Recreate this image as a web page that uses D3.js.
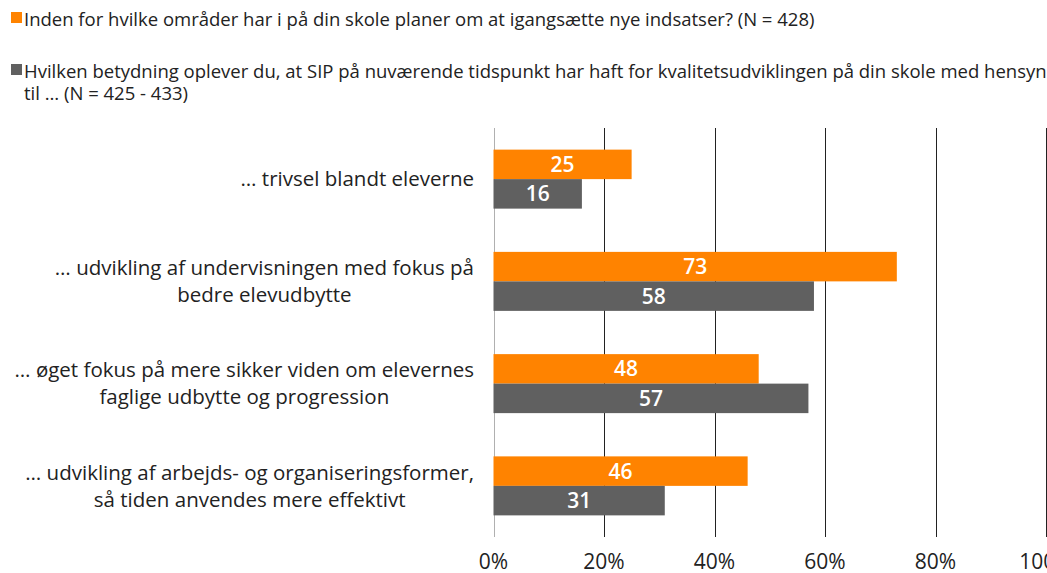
<!DOCTYPE html>
<html><head><meta charset="utf-8">
<script src="https://cdn.jsdelivr.net/npm/d3@7"></script>
<style>
html,body{margin:0;padding:0;background:#fff;overflow:hidden}
svg{display:block;font-family:"Open Sans",sans-serif}
</style></head>
<body>
<svg id="c" width="1047" height="573"></svg>
<script>
const categories = [
  ["… trivsel blandt eleverne"],
  ["… udvikling af undervisningen med fokus på", "bedre elevudbytte"],
  ["… øget fokus på mere sikker viden om elevernes", "faglige udbytte og progression"],
  ["… udvikling af arbejds- og organiseringsformer,", "så tiden anvendes mere effektivt"]
];
const seriesNames = [
  "Inden for hvilke områder har i på din skole planer om at igangsætte nye indsatser? (N = 428)",
  "Hvilken betydning oplever du, at SIP på nuværende tidspunkt har haft for kvalitetsudviklingen på din skole med hensyn|til … (N = 425 - 433)"
];
const planValues = [25, 73, 48, 46];
const sipValues = [16, 58, 57, 31];
const tickValues = [0, 20, 40, 60, 80, 100];
const colors = ["#FF8300", "#606060"];

const svg = d3.select("#c");
const x = d3.scaleLinear().domain([0, 100]).range([493.5, 1046]);
const catKeys = categories.map((c, i) => i);
const y0 = d3.scaleBand().domain(catKeys).range([128, 537]).paddingInner(0).paddingOuter(0);
const y1 = d3.scaleBand().domain([0, 1]).range([0, y0.bandwidth()]).paddingInner(0).paddingOuter(0.733);

// legend
const legY = [{sq: 12, lines: [26]}, {sq: 64, lines: [78, 100]}];
seriesNames.forEach((name, i) => {
  const g = svg.append("g");
  g.append("rect").attr("x", 11).attr("y", legY[i].sq).attr("width", 11).attr("height", 11).attr("fill", colors[i]);
  name.split("|").forEach((ln, j) => {
    g.append("text").attr("x", 24).attr("y", legY[i].lines[j]).attr("font-size", 18.5).attr("fill", "#222").text(ln);
  });
});

// gridlines
svg.append("g").selectAll("line").data(tickValues).join("line")
  .attr("x1", d => Math.round(x(d)) + 0.5).attr("x2", d => Math.round(x(d)) + 0.5)
  .attr("y1", 128).attr("y2", 537)
  .attr("stroke", d => d === 0 ? "#b0b0b0" : "#222").attr("stroke-width", 1);

// tick labels
svg.append("g").selectAll("text").data(tickValues).join("text")
  .attr("x", d => x(d)).attr("y", 569).attr("text-anchor", "middle")
  .attr("font-size", 21).attr("fill", "#222").text(d => d + "%");

// bars
const data = catKeys.map(i => [planValues[i], sipValues[i]]);
const groups = svg.append("g").selectAll("g").data(data).join("g")
  .attr("transform", (d, i) => `translate(0,${y0(i)})`);
groups.selectAll("rect").data(d => d).join("rect")
  .attr("x", x(0)).attr("y", (d, j) => y1(j))
  .attr("width", d => x(d) - x(0)).attr("height", y1.bandwidth())
  .attr("fill", (d, j) => colors[j]);
groups.selectAll("text").data(d => d).join("text")
  .attr("x", d => (x(0) + x(d)) / 2).attr("y", (d, j) => y1(j) + y1.bandwidth() / 2)
  .attr("dy", "0.36em").attr("text-anchor", "middle")
  .attr("font-size", 21).attr("font-weight", 600).attr("fill", "#fff").text(d => d);

// category labels
const right = 474;
const lineH = 27;
categories.forEach((lines, i) => {
  const cy = y0(i) + y0.bandwidth() / 2;
  const g = svg.append("g");
  const texts = lines.map((ln, j) => g.append("text")
    .attr("y", cy + (j - (lines.length - 1) / 2) * lineH)
    .attr("dy", "0.35em").attr("font-size", 20.5).attr("fill", "#222")
    .attr("text-anchor", "middle").text(ln));
  const maxW = d3.max(texts, t => t.node().getComputedTextLength());
  texts.forEach(t => t.attr("x", right - maxW / 2));
});
</script>
</body></html>
